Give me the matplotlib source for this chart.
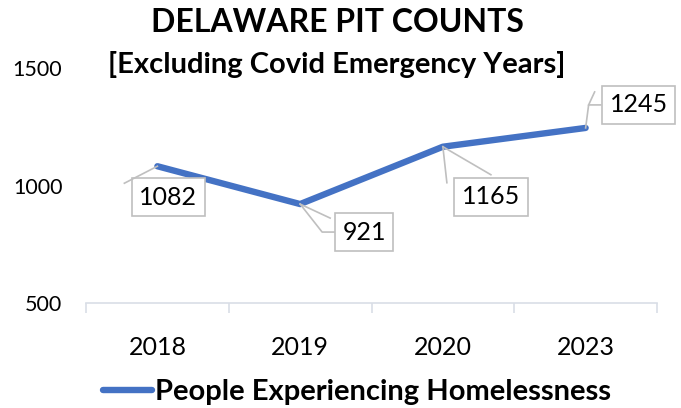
import matplotlib
matplotlib.use("Agg")
import matplotlib.pyplot as plt
from matplotlib.ticker import FixedLocator

plt.rcParams['font.family'] = ['Lato', 'DejaVu Sans']

# data
years = ['2018', '2019', '2020', '2023']
counts = [1082, 921, 1165, 1245]
y_ticks = [500, 1000, 1500]
series_name = 'People Experiencing Homelessness'

# label box offsets from the point (pixels, y up) and leader lines
label_offsets = [(11, -31), (64, -28), (48, -50), (53, 23)]
leaders = [
    [[(0, 0), (-33, -17)]],
    [[(0, 0), (22, -28), (34, -28)], [(0, 0), (30, -14)]],
    [[(0, 0), (4, -36)], [(0, 0), (48, -28)]],
    [[(0, 0), (3, 23), (15, 23)], [(3, 23), (9, 36)]],
]

line_color = '#4472C4'
grey = '#BFBFBF'
axis_grey = '#D9DEE6'

fig = plt.figure(figsize=(6.81, 4.08), dpi=100)
ax = fig.add_axes([86 / 681, 1 - 303 / 408, (657 - 86) / 681, (303 - 68) / 408])

x = list(range(len(years)))
ax.plot(x, counts, color=line_color, linewidth=4.6, solid_capstyle='round',
        solid_joinstyle='round', zorder=3)

ax.set_xlim(-0.5, len(years) - 0.5)
ax.set_ylim(500, 1500)
ax.set_yticks(y_ticks)
ax.set_xticks(x)
ax.set_xticklabels(years)
ax.xaxis.set_minor_locator(FixedLocator([i - 0.5 for i in range(len(years) + 1)]))
ax.tick_params(axis='x', which='major', length=0, pad=24, labelsize=18)
ax.tick_params(axis='x', which='minor', length=7, width=1.2, color=axis_grey, direction='out')
ax.tick_params(axis='y', length=0, pad=17, labelsize=15.5)

for s in ['top', 'right', 'left']:
    ax.spines[s].set_visible(False)
ax.spines['bottom'].set_color(axis_grey)
ax.spines['bottom'].set_linewidth(1.2)

# data labels in boxes
for i, v in enumerate(counts):
    dx, dy = label_offsets[i]
    ax.annotate(str(v), xy=(i, v), xytext=(dx, dy), textcoords='offset pixels',
                ha='center', va='center', fontsize=18, zorder=5,
                bbox=dict(boxstyle='square,pad=0.3', fc='white', ec=grey, lw=1.2))

# leader lines, drawn in pixel offsets from each point
for i, v in enumerate(counts):
    px, py = ax.transData.transform((i, v))
    for seg in leaders[i]:
        xs = [px + a for a, b in seg]
        ys = [py + b for a, b in seg]
        fig.lines.append(plt.Line2D(xs, ys, transform=None, color=grey, lw=1.2,
                                    zorder=4, figure=fig))

fig.text(0.495, 1 - 22 / 408, 'DELAWARE PIT COUNTS', ha='center', va='center',
         fontsize=23, fontweight='bold')
fig.text(0.495, 1 - 65 / 408, '[Excluding Covid Emergency Years]', ha='center',
         va='center', fontsize=21, fontweight='bold')

h = plt.Line2D([], [], color=line_color, linewidth=4.6, solid_capstyle='round')
fig.legend([h], [series_name], loc='center', bbox_to_anchor=(357 / 681, 1 - 392 / 408),
           frameon=False, prop={'weight': 'bold', 'size': 21}, handlelength=1.7,
           handletextpad=0.1)

fig.savefig('out.png', dpi=100)
